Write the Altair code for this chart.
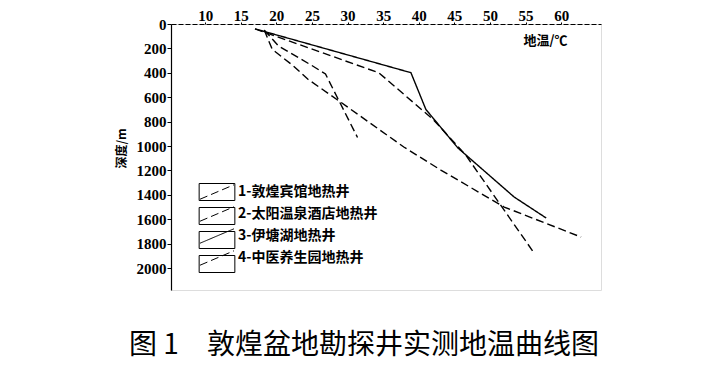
import altair as alt
import pandas as pd

series_names = ["1-敦煌宾馆地热井", "2-太阳温泉酒店地热井", "3-伊塘湖地热井", "4-中医养生园地热井"]
box_keys = ["k1", "k2", "k3", "k4"]

temp_1 = [18.3, 20.3, 25.1, 26.9, 31.4]
depth_1 = [50, 180, 344, 410, 930]
temp_2 = [17.0, 34.4, 42.1, 46.6, 56.2]
depth_2 = [40, 400, 787, 1074, 1877]
temp_3 = [17.0, 38.9, 41.0, 45.5, 53.4, 57.9]
depth_3 = [40, 399, 700, 1016, 1418, 1590]
temp_4 = [18.3, 19.4, 19.9, 22.4, 24.4, 29.0, 37.9, 43.1, 52.0, 62.8]
depth_4 = [50, 205, 230, 344, 451, 639, 1008, 1197, 1500, 1746]

x_ticks = [10, 15, 20, 25, 30, 35, 40, 45, 50, 55, 60]
y_ticks = [0, 200, 400, 600, 800, 1000, 1200, 1400, 1600, 1800, 2000]

rows = []
for name, key, ts, ds in zip(series_names, box_keys,
                             [temp_1, temp_2, temp_3, temp_4],
                             [depth_1, depth_2, depth_3, depth_4]):
    for i, (t, d) in enumerate(zip(ts, ds)):
        rows.append({"series": name, "key": key, "temp": t, "depth": d, "idx": i})
df = pd.DataFrame(rows)

CJK = "Noto Sans CJK SC"
NUM = "Liberation Serif"
DIAG = "M-2.0,0.85L2.0,-0.85"
BOX = "M-2.1,-1H2.1V1H-2.1Z"

label_style = dict(labelFont=NUM, labelFontSize=15, labelFontWeight="bold", labelColor="black")


def x_enc():
    return alt.X(
        "temp:Q",
        scale=alt.Scale(domain=[5.2, 65.6], nice=False, zero=False),
        axis=alt.Axis(
            orient="top", values=x_ticks, title="地温/℃", grid=False, format="d",
            labelOverlap=False,
            domainColor="black", domainWidth=1.2, domainDash=[5, 2],
            tickColor="black", tickSize=2, labelPadding=-1,
            titleX=374, titleY=16, titleBaseline="middle", titleAlign="center",
            titleFontSize=13, **label_style,
        ),
    )


def y_enc():
    return alt.Y(
        "depth:Q",
        scale=alt.Scale(domain=[0, 2180], reverse=True, nice=False, zero=False),
        axis=alt.Axis(
            values=y_ticks, title="深度/m", grid=False, format="d",
            labelOverlap=False,
            domainColor="black", domainWidth=1.2,
            tickColor="black", tickSize=4, labelPadding=1,
            titleAngle=270, titleX=-50, titleY=124, titleBaseline="middle", titleAlign="center",
            titleFontSize=12, **label_style,
        ),
    )


legend_common = dict(
    orient="none", legendX=28, legendY=159, title=None, padding=0,
    symbolSize=289, symbolStrokeWidth=1, symbolStrokeColor="black",
    labelFont=CJK, labelFontSize=14, labelFontWeight="bold", labelColor="black",
    labelOffset=12, rowPadding=2, symbolOffset=9,
)

lines = alt.Chart(df).mark_line(color="black", strokeWidth=1.4).encode(
    x=x_enc(),
    y=y_enc(),
    strokeDash=alt.StrokeDash(
        "series:N",
        scale=alt.Scale(domain=series_names, range=[[8, 4], [8, 4], [1, 0], [8, 4]]),
        legend=alt.Legend(symbolType=DIAG, **legend_common),
    ),
    order="idx:Q",
)

boxes = alt.Chart(df).mark_point(opacity=0, filled=False, color="black").encode(
    x=x_enc(),
    y=y_enc(),
    shape=alt.Shape(
        "key:N",
        scale=alt.Scale(domain=box_keys, range=[BOX, BOX, BOX, BOX]),
        legend=alt.Legend(labelExpr="''", **legend_common),
    ),
)

chart = alt.layer(lines, boxes).properties(
    width=430,
    height=266,
    autosize=alt.AutoSizeParams(type="none"),
    padding={"left": 163, "top": 16, "right": 100, "bottom": 82},
    title=alt.Title(
        "图 1\u3000敦煌盆地勘探井实测地温曲线图",
        orient="bottom", anchor="middle", offset=42, dx=-22,
        font=CJK, fontSize=28, fontWeight="normal", color="black",
    ),
).configure_view(stroke=None).configure(background="white").configure_axis(
    labelOverlap=False,
    titleFont=CJK, titleFontWeight="bold", titleColor="black",
    **label_style,
)

chart.save("out.html", embed_options={"renderer": "svg", "actions": False})
